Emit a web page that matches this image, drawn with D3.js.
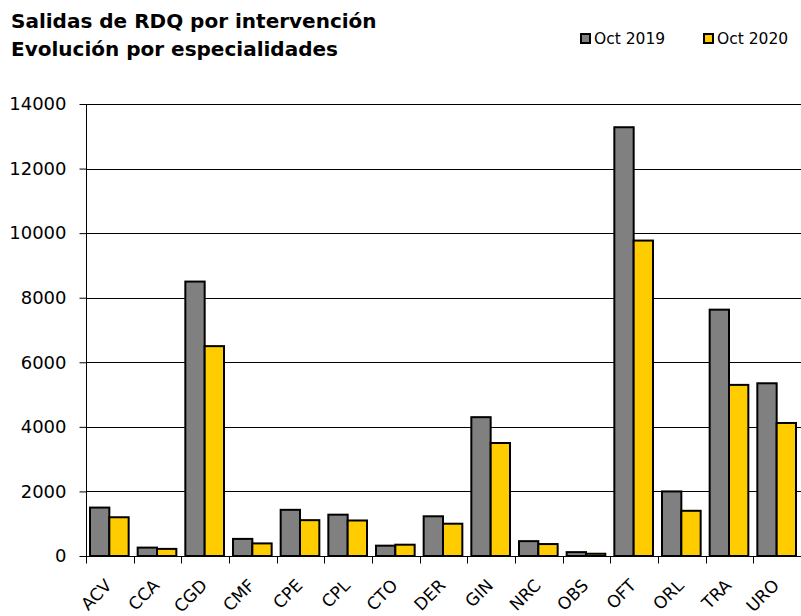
<!DOCTYPE html>
<html>
<head>
<meta charset="utf-8">
<script src="https://cdn.jsdelivr.net/npm/d3@7"></script>
<style>
    body { margin: 0; background: #fff; }
    svg { font-family: "DejaVu Sans", Verdana, sans-serif; }
</style>
</head>
<body>
<div id="chart"></div>
<script>
var categories = ['ACV','CCA','CGD','CMF','CPE','CPL','CTO','DER','GIN','NRC','OBS','OFT','ORL','TRA','URO'];
var oct2019 = [1500, 260, 8500, 530, 1430, 1280, 320, 1230, 4300, 460, 120, 13280, 2000, 7630, 5350];
var oct2020 = [1200, 220, 6500, 390, 1110, 1100, 350, 1000, 3500, 370, 70, 9770, 1400, 5300, 4120];
var seriesNames = ['Oct 2019', 'Oct 2020'];
var seriesColors = ['#808080', '#ffcc00'];
var yTicks = [0, 2000, 4000, 6000, 8000, 10000, 12000, 14000];

var width = 801, height = 616;
var margin = {top: 104, right: 0, bottom: 60, left: 86};

var svg = d3.select('#chart')
    .append('svg')
    .attr('width', width)
    .attr('height', height);

var x = d3.scaleBand()
    .domain(categories)
    .range([margin.left, width - margin.right])
    .paddingInner(0)
    .paddingOuter(0);

var y = d3.scaleLinear()
    .domain([0, 14000])
    .range([height - margin.bottom, margin.top]);

var x1 = d3.scaleBand()
    .domain([0, 1])
    .range([4, x.bandwidth() - 5]);

// gridlines
svg.append('g')
    .selectAll('line')
    .data(yTicks.slice(1))
    .join('line')
    .attr('x1', margin.left)
    .attr('x2', width)
    .attr('y1', function(d) { return Math.round(y(d)) + 0.5; })
    .attr('y2', function(d) { return Math.round(y(d)) + 0.5; })
    .attr('stroke', '#000')
    .attr('stroke-width', 1);

// bars
var rows = categories.map(function(c, i) {
    return {cat: c, vals: [oct2019[i], oct2020[i]]};
});

svg.append('g')
    .selectAll('g')
    .data(rows)
    .join('g')
    .attr('transform', function(d) { return 'translate(' + x(d.cat) + ',0)'; })
    .selectAll('rect')
    .data(function(d) { return d.vals; })
    .join('rect')
    .attr('x', function(d, i) { return x1(i); })
    .attr('width', x1.bandwidth())
    .attr('y', function(d) { return y(d); })
    .attr('height', function(d) { return y(0) - y(d); })
    .attr('fill', function(d, i) { return seriesColors[i]; })
    .attr('stroke', '#000')
    .attr('stroke-width', 2);

// y axis
var yAxis = svg.append('g')
    .attr('transform', 'translate(' + (margin.left + 0.5) + ',0)')
    .call(d3.axisLeft(y).tickValues(yTicks).tickSize(7).tickPadding(13).tickFormat(d3.format('d')));
yAxis.select('.domain').attr('stroke', '#000').attr('d', 'M0,' + y(14000) + 'V' + y(0));
yAxis.selectAll('text').attr('font-size', 18).attr('fill', '#000')
    .attr('font-family', '"DejaVu Sans", sans-serif');

// x axis
var xAxis = svg.append('g')
    .attr('transform', 'translate(0,' + (Math.round(y(0)) + 0.5) + ')');
xAxis.append('line')
    .attr('x1', margin.left).attr('x2', width)
    .attr('stroke', '#000');
xAxis.selectAll('.tk')
    .data(categories)
    .join('line')
    .attr('class', 'tk')
    .attr('x1', function(d) { return Math.round(x(d)) + 0.5; })
    .attr('x2', function(d) { return Math.round(x(d)) + 0.5; })
    .attr('y1', 0).attr('y2', 7)
    .attr('stroke', '#000');
xAxis.selectAll('text')
    .data(categories)
    .join('text')
    .attr('transform', function(d) {
        return 'translate(' + (x(d) + x.bandwidth() / 2 + 3) + ',30) rotate(-45)';
    })
    .attr('text-anchor', 'end')
    .attr('font-size', 17)
    .text(function(d) { return d; });

// title
svg.append('text')
    .attr('x', 11).attr('y', 28)
    .attr('font-size', 20).attr('font-weight', 'bold')
    .text('Salidas de RDQ por intervención');
svg.append('text')
    .attr('x', 11).attr('y', 56)
    .attr('font-size', 20).attr('font-weight', 'bold')
    .text('Evolución por especialidades');

// legend
var legend = svg.append('g')
    .selectAll('g')
    .data(seriesNames)
    .join('g')
    .attr('transform', function(d, i) { return 'translate(' + (581 + i * 123) + ',34)'; });
legend.append('rect')
    .attr('width', 9).attr('height', 9)
    .attr('fill', function(d, i) { return seriesColors[i]; })
    .attr('stroke', '#000')
    .attr('stroke-width', 2);
legend.append('text')
    .attr('x', 13).attr('y', 10)
    .attr('font-size', 15.5)
    .text(function(d) { return d; });
</script>
</body>
</html>
